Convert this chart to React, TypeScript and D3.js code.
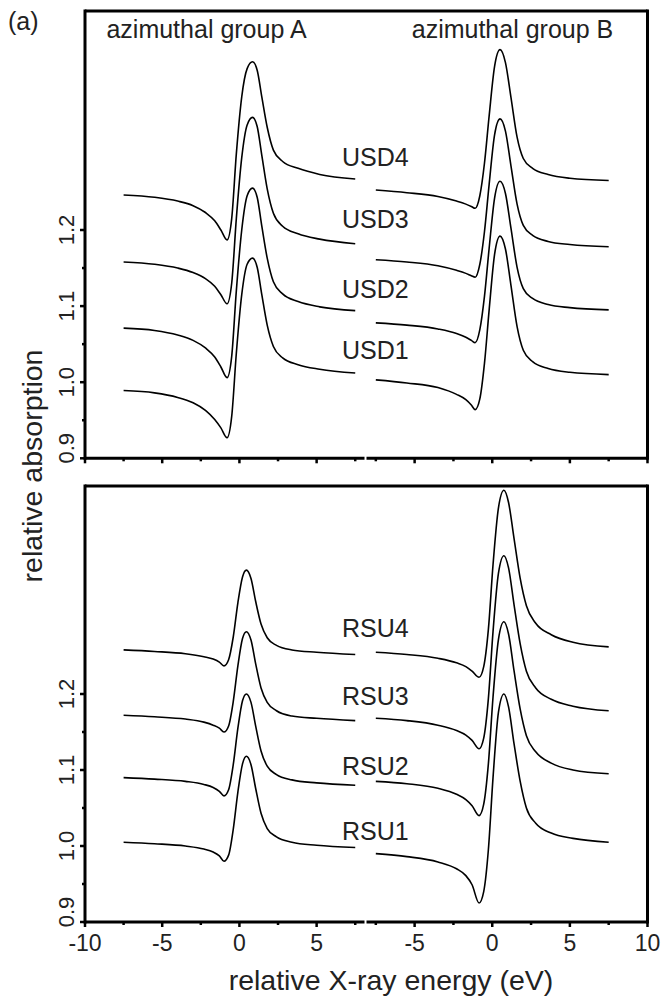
import React from "react";
import * as d3 from "d3";

// Energy grids (eV) for each half of each panel
const energyTopA = [-7.5, -5.5, -4.0, -3.0, -2.2, -1.6, -1.2, -0.8, -0.5, -0.2, 0.15, 0.5, 0.85, 1.15, 1.45, 1.8, 2.2, 2.8, 3.8, 5.2, 7.5];
const energyTopB = [-7.5, -5.5, -3.5, -2.3, -1.7, -1.35, -1.1, -0.8, -0.5, -0.2, 0.15, 0.5, 0.85, 1.2, 1.6, 2.0, 2.6, 3.6, 5.0, 7.5];
const energyBotA = [-7.5, -5.5, -3.5, -2.3, -1.7, -1.3, -1.0, -0.7, -0.4, -0.1, 0.2, 0.45, 0.75, 1.05, 1.4, 1.8, 2.4, 3.4, 5.0, 7.5];
const energyBotB = [-7.5, -5.5, -3.5, -2.3, -1.7, -1.3, -0.85, -0.55, -0.25, 0.05, 0.4, 0.75, 1.05, 1.4, 1.8, 2.2, 2.8, 3.8, 5.2, 7.5];

// Upper panel, azimuthal group A
const usd4A = [1.246, 1.243, 1.238, 1.232, 1.223, 1.212, 1.2, 1.187, 1.215, 1.3, 1.375, 1.412, 1.421, 1.41, 1.375, 1.335, 1.305, 1.29, 1.281, 1.273, 1.267];
const usd3A = [1.158, 1.155, 1.15, 1.144, 1.136, 1.126, 1.115, 1.103, 1.13, 1.215, 1.295, 1.338, 1.348, 1.336, 1.298, 1.254, 1.222, 1.205, 1.195, 1.188, 1.182];
const usd2A = [1.071, 1.068, 1.062, 1.055, 1.045, 1.033, 1.02, 1.006, 1.034, 1.12, 1.2, 1.245, 1.255, 1.243, 1.205, 1.163, 1.132, 1.116, 1.106, 1.099, 1.094];
const usd1A = [0.989, 0.986, 0.98, 0.973, 0.963, 0.951, 0.94, 0.927, 0.955, 1.038, 1.115, 1.155, 1.163, 1.151, 1.115, 1.075, 1.047, 1.032, 1.023, 1.017, 1.012];

// Upper panel, azimuthal group B
const usd4B = [1.2525, 1.249, 1.244, 1.238, 1.234, 1.231, 1.2285, 1.245, 1.288, 1.35, 1.415, 1.437, 1.42, 1.375, 1.322, 1.294, 1.281, 1.273, 1.268, 1.265];
const usd3B = [1.161, 1.158, 1.153, 1.147, 1.143, 1.14, 1.138, 1.155, 1.198, 1.26, 1.325, 1.346, 1.33, 1.285, 1.234, 1.206, 1.193, 1.185, 1.181, 1.178];
const usd2B = [1.078, 1.075, 1.07, 1.064, 1.059, 1.055, 1.052, 1.069, 1.113, 1.176, 1.242, 1.264, 1.248, 1.203, 1.151, 1.123, 1.11, 1.102, 1.098, 1.095];
const usd1B = [1.003, 0.999, 0.993, 0.984, 0.977, 0.97, 0.964, 0.978, 1.025, 1.095, 1.168, 1.192, 1.175, 1.128, 1.073, 1.042, 1.027, 1.018, 1.013, 1.01];

// Lower panel, azimuthal group A
const rsu4A = [1.258, 1.256, 1.253, 1.249, 1.246, 1.242, 1.237, 1.245, 1.275, 1.32, 1.354, 1.363, 1.352, 1.322, 1.292, 1.274, 1.264, 1.258, 1.255, 1.252];
const rsu3A = [1.172, 1.17, 1.167, 1.163, 1.159, 1.155, 1.15, 1.158, 1.19, 1.237, 1.273, 1.282, 1.271, 1.24, 1.208, 1.189, 1.178, 1.171, 1.168, 1.165];
const rsu2A = [1.09, 1.088, 1.085, 1.081, 1.077, 1.072, 1.066, 1.074, 1.107, 1.155, 1.191, 1.2, 1.189, 1.158, 1.125, 1.105, 1.094, 1.087, 1.083, 1.08];
const rsu1A = [1.005, 1.003, 1.0, 0.996, 0.992, 0.987, 0.98, 0.988, 1.022, 1.071, 1.108, 1.118, 1.107, 1.076, 1.043, 1.023, 1.012, 1.005, 1.001, 0.998];

// Lower panel, azimuthal group B
const rsu4B = [1.255, 1.252, 1.247, 1.241, 1.236, 1.23, 1.222, 1.236, 1.285, 1.37, 1.445, 1.468, 1.452, 1.405, 1.352, 1.316, 1.293, 1.278, 1.268, 1.262];
const rsu3B = [1.168, 1.165, 1.159, 1.152, 1.146, 1.139, 1.128, 1.142, 1.194, 1.282, 1.359, 1.382, 1.366, 1.318, 1.266, 1.23, 1.208, 1.193, 1.184, 1.178];
const rsu2B = [1.085, 1.082, 1.076, 1.068, 1.061, 1.053, 1.04, 1.055, 1.108, 1.196, 1.272, 1.295, 1.279, 1.231, 1.18, 1.145, 1.124, 1.109, 1.1, 1.095];
const rsu1B = [0.99, 0.986, 0.979, 0.97, 0.961, 0.949, 0.925, 0.94, 0.995, 1.09, 1.176, 1.2, 1.183, 1.135, 1.085, 1.05, 1.03, 1.017, 1.01, 1.005];

// Curve labels
const usdLabels = ["USD4", "USD3", "USD2", "USD1"];
const rsuLabels = ["RSU4", "RSU3", "RSU2", "RSU1"];
const usdLabelValues = [1.284, 1.203, 1.11, 1.031];
const rsuLabelValues = [1.275, 1.185, 1.093, 1.008];
const groupTitles = ["azimuthal group A", "azimuthal group B"];

// Axis ticks
const yMajor = [0.9, 1.0, 1.1, 1.2];
const yMinor = [0.95, 1.05, 1.15];
const xMajorA = [-10, -5, 0, 5];
const xMinorA = [-7.5, -2.5, 2.5, 7.5];
const xMajorB = [-5, 0, 5, 10];
const xMinorB = [-7.5, -2.5, 2.5, 7.5];

const W = 661;
const H = 1001;
const FONT = "'Liberation Sans', Arial, Helvetica, sans-serif";

const xA = d3.scaleLinear().domain([-10, 8.1]).range([85, 364.5]);
const xB = d3.scaleLinear().domain([-8.1, 10]).range([366.5, 647.5]);
const xLeft = 85;
const xRight = 647.5;

type Panel = {
  y: d3.ScaleLinear<number, number>;
  top: number;
  bottom: number;
  curvesA: number[][];
  curvesB: number[][];
  eA: number[];
  eB: number[];
  labels: string[];
  labelValues: number[];
  showXLabels: boolean;
  showTitles: boolean;
};

const yTop = d3.scaleLinear().domain([0.9, 1.2]).range([458.3, 230]);
const yBot = d3.scaleLinear().domain([0.9, 1.2]).range([922, 694]);

const panels: Panel[] = [
  {
    y: yTop,
    top: 11,
    bottom: 458.3,
    curvesA: [usd4A, usd3A, usd2A, usd1A],
    curvesB: [usd4B, usd3B, usd2B, usd1B],
    eA: energyTopA,
    eB: energyTopB,
    labels: usdLabels,
    labelValues: usdLabelValues,
    showXLabels: false,
    showTitles: true,
  },
  {
    y: yBot,
    top: 486,
    bottom: 922,
    curvesA: [rsu4A, rsu3A, rsu2A, rsu1A],
    curvesB: [rsu4B, rsu3B, rsu2B, rsu1B],
    eA: energyBotA,
    eB: energyBotB,
    labels: rsuLabels,
    labelValues: rsuLabelValues,
    showXLabels: true,
    showTitles: false,
  },
];

function linePath(
  energies: number[],
  values: number[],
  x: d3.ScaleLinear<number, number>,
  y: d3.ScaleLinear<number, number>
) {
  const gen = d3
    .line<number>()
    .x((_, i) => x(energies[i]))
    .y((v) => y(v))
    .curve(d3.curveMonotoneX);
  return gen(values) || "";
}

function PanelView({ p }: { p: Panel }) {
  const axisW = 3;
  const tickMajor = 5;
  const tickMinor = 3;
  return (
    <g>
      {/* frame */}
      <line x1={xLeft} x2={xLeft} y1={p.top - axisW / 2} y2={p.bottom + axisW / 2} stroke="#000" strokeWidth={axisW} />
      <line x1={xRight} x2={xRight} y1={p.top - axisW / 2} y2={p.bottom + axisW / 2} stroke="#000" strokeWidth={axisW} />
      <line x1={xLeft} x2={xRight} y1={p.top} y2={p.top} stroke="#000" strokeWidth={axisW} />
      <line x1={xLeft} x2={xA.range()[1]} y1={p.bottom} y2={p.bottom} stroke="#000" strokeWidth={axisW} />
      <line x1={xB.range()[0]} x2={xRight} y1={p.bottom} y2={p.bottom} stroke="#000" strokeWidth={axisW} />

      {/* x ticks */}
      {xMajorA.map((t) => (
        <line key={"xa" + t} x1={xA(t)} x2={xA(t)} y1={p.bottom} y2={p.bottom + tickMajor} stroke="#000" strokeWidth={2.5} />
      ))}
      {xMinorA.map((t) => (
        <line key={"xam" + t} x1={xA(t)} x2={xA(t)} y1={p.bottom} y2={p.bottom + tickMinor} stroke="#000" strokeWidth={2.5} />
      ))}
      {xMajorB.map((t) => (
        <line key={"xb" + t} x1={xB(t)} x2={xB(t)} y1={p.bottom} y2={p.bottom + tickMajor} stroke="#000" strokeWidth={2.5} />
      ))}
      {xMinorB.map((t) => (
        <line key={"xbm" + t} x1={xB(t)} x2={xB(t)} y1={p.bottom} y2={p.bottom + tickMinor} stroke="#000" strokeWidth={2.5} />
      ))}

      {/* y ticks */}
      {yMajor.map((t) => (
        <line key={"y" + t} x1={xLeft - tickMajor} x2={xLeft} y1={p.y(t)} y2={p.y(t)} stroke="#000" strokeWidth={2.5} />
      ))}
      {yMinor.map((t) => (
        <line key={"ym" + t} x1={xLeft - tickMinor} x2={xLeft} y1={p.y(t)} y2={p.y(t)} stroke="#000" strokeWidth={2.5} />
      ))}
      {yMajor.map((t, i) => (
        <text
          key={"yl" + t}
          transform={`translate(73.5,${p.y(t) - (i === 0 ? 10 : 0)}) rotate(-90)`}
          textAnchor="middle"
          fontFamily={FONT}
          fontSize={22}
          fill="#222"
        >
          {t.toFixed(1)}
        </text>
      ))}

      {p.showXLabels &&
        xMajorA.map((t) => (
          <text key={"xla" + t} x={xA(t)} y={p.bottom + 29} textAnchor="middle" fontFamily={FONT} fontSize={23} fill="#222">
            {String(t)}
          </text>
        ))}
      {p.showXLabels &&
        xMajorB.map((t) => (
          <text key={"xlb" + t} x={xB(t)} y={p.bottom + 29} textAnchor="middle" fontFamily={FONT} fontSize={23} fill="#222">
            {String(t)}
          </text>
        ))}

      {/* spectra */}
      {p.curvesA.map((c, i) => (
        <path key={"ca" + i} d={linePath(p.eA, c, xA, p.y)} fill="none" stroke="#000" strokeWidth={1.6} />
      ))}
      {p.curvesB.map((c, i) => (
        <path key={"cb" + i} d={linePath(p.eB, c, xB, p.y)} fill="none" stroke="#000" strokeWidth={1.6} />
      ))}

      {/* curve labels */}
      {p.labels.map((l, i) => (
        <text key={l} x={342} y={p.y(p.labelValues[i])} fontFamily={FONT} fontSize={25} fill="#222">
          {l}
        </text>
      ))}

      {p.showTitles && (
        <>
          <text x={206.5} y={38} textAnchor="middle" fontFamily={FONT} fontSize={25} fill="#222">
            {groupTitles[0]}
          </text>
          <text x={512.5} y={38} textAnchor="middle" fontFamily={FONT} fontSize={25} fill="#222">
            {groupTitles[1]}
          </text>
        </>
      )}
    </g>
  );
}

export default function App() {
  return (
    <svg
      width={W}
      height={H}
      viewBox={`0 0 ${W} ${H}`}
      style={{ position: "absolute", left: 0, top: 0, background: "#fff" }}
    >
      <rect x={0} y={0} width={W} height={H} fill="#fff" />
      <text x={8} y={30} fontFamily={FONT} fontSize={25} fill="#222">
        (a)
      </text>
      {panels.map((p, i) => (
        <PanelView key={i} p={p} />
      ))}
      <text
        transform={`translate(42,466) rotate(-90)`}
        textAnchor="middle"
        fontFamily={FONT}
        fontSize={28.5}
        fill="#222"
      >
        relative absorption
      </text>
      <text x={391} y={990} textAnchor="middle" fontFamily={FONT} fontSize={28.5} fill="#222">
        relative X-ray energy (eV)
      </text>
    </svg>
  );
}
